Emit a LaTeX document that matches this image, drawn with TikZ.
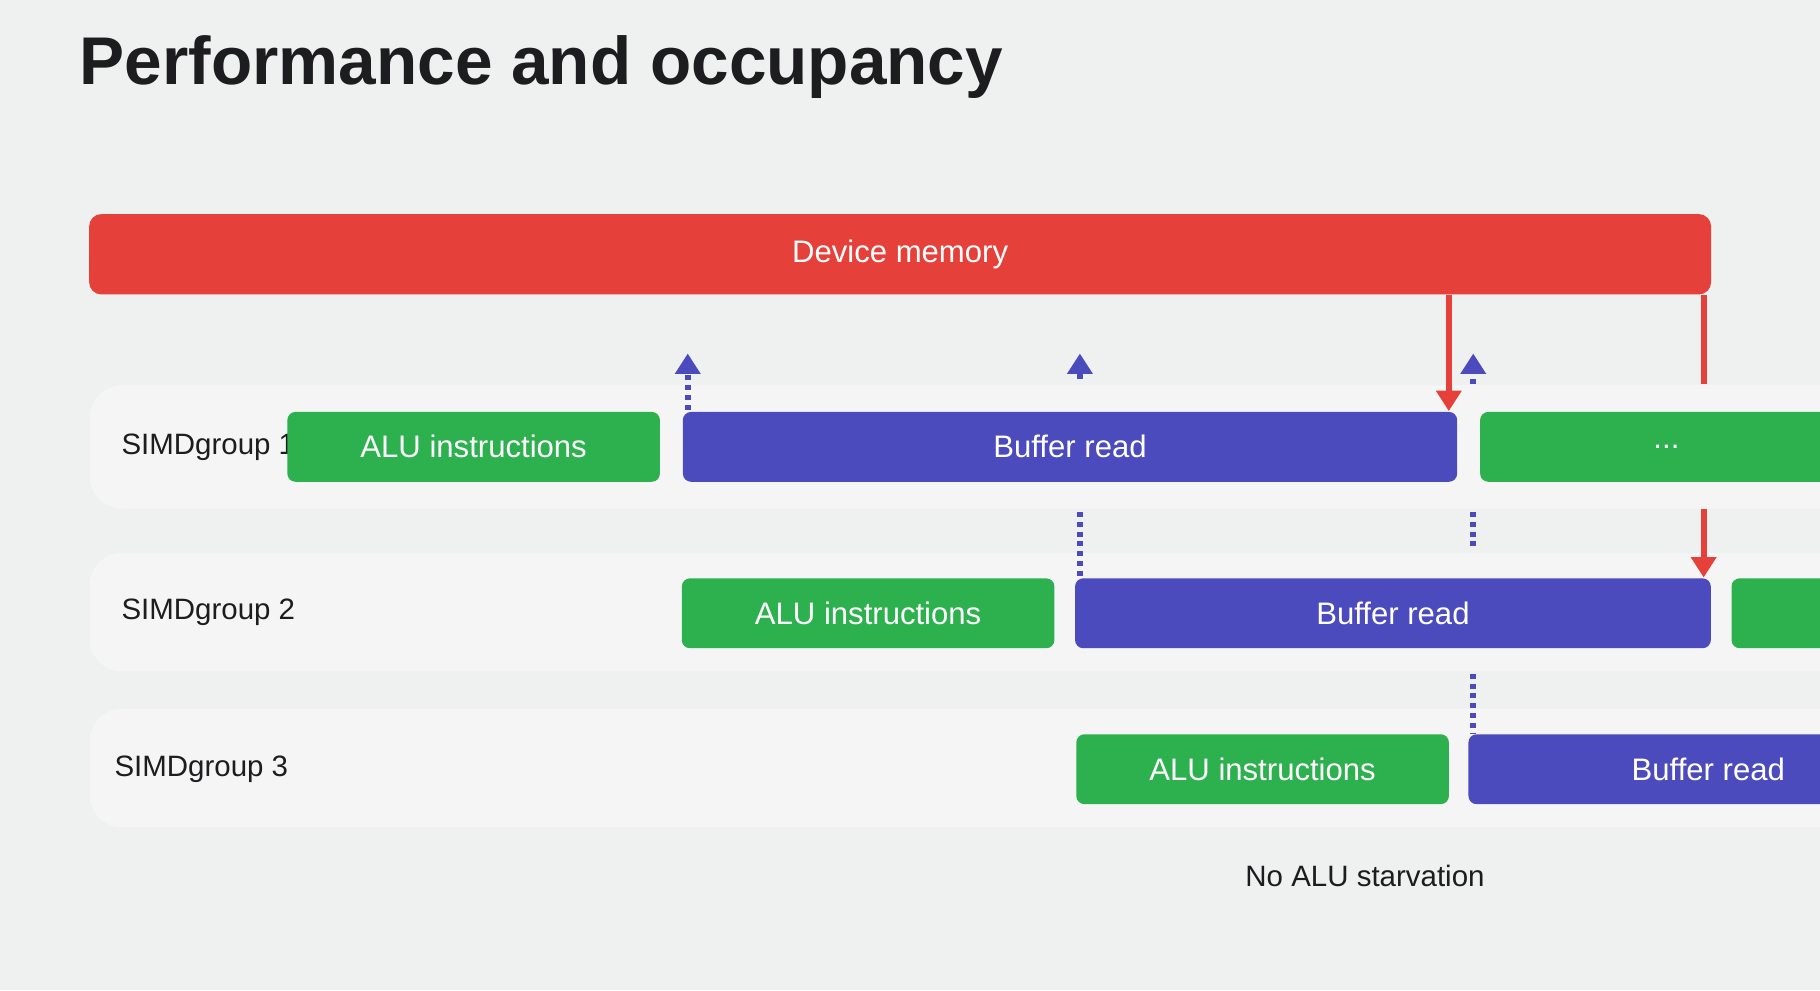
\documentclass[tikz,border=0pt]{standalone}
\usepackage{fontspec}
\setmainfont{Liberation Sans}
\usetikzlibrary{arrows.meta}
\definecolor{bgc}{HTML}{EFF0F0}
\definecolor{lanec}{HTML}{F5F5F6}
\definecolor{memred}{HTML}{E6403A}
\definecolor{alugreen}{HTML}{2DB04E}
\definecolor{bufblue}{HTML}{4B4BBD}
\definecolor{txtc}{HTML}{1D1D1F}
\tikzset{
  lane/.style={fill=lanec,rounded corners=8pt},
  blk/.style={rounded corners=2pt,text=white,font=\fontsize{7.6}{9}\selectfont,inner sep=0,minimum height=0.6cm},
  alu/.style={blk,fill=alugreen},
  buf/.style={blk,fill=bufblue},
  lbl/.style={text=txtc,font=\fontsize{7.2}{9}\selectfont,anchor=west},
  rd/.style={dashed,dash pattern=on 1.2pt off 1.2pt,bufblue,line width=1.4pt,-{Triangle[length=5pt,width=6pt]}},
  rdn/.style={dashed,dash pattern=on 1.2pt off 1.2pt,bufblue,line width=1.4pt},
  wr/.style={memred,line width=1.4pt,-{Triangle[length=5pt,width=6pt]}},
  wrn/.style={memred,line width=1.4pt}
}
\begin{document}
\begin{tikzpicture}[x=0.01cm,y=-0.01cm]
    \fill[bgc] (0,0) rectangle (1564,851);
    \useasboundingbox (0,0) rectangle (1564,851);
    \clip (0,0) rectangle (1564,851);
    \node[anchor=base west,text=txtc,font=\bfseries\fontsize{16.5}{20}\selectfont,inner sep=0] (title) at (68,73) {Performance and occupancy};
    % memory
    \node[fill=memred,rounded corners=3pt,minimum width=13.93cm,minimum height=0.69cm,text=white,font=\fontsize{7.6}{9}\selectfont,inner sep=0] (mem) at (773.5,218.5) {Device memory};
    % lanes
    \fill[lane] (77,331) rectangle (1600,437);
    \fill[lane] (77,475) rectangle (1600,577);
    \fill[lane] (77,609) rectangle (1600,711);
    \node[lbl] (g1) at (92,384) {SIMDgroup 1};
    \node[lbl] (g2) at (92,526) {SIMDgroup 2};
    \node[lbl] (g3) at (86,661) {SIMDgroup 3};
    % lane 1
    \node[alu,minimum width=3.2cm] (a1) at (407,384) {ALU instructions};
    \node[buf,minimum width=6.65cm] (b1) at (919.5,384) {Buffer read};
    \node[alu,minimum width=3.2cm] (c1) at (1432,384) {...};
    % lane 2
    \node[alu,minimum width=3.2cm] (a2) at (746,527) {ALU instructions};
    \node[buf,minimum width=5.46cm] (b2) at (1197,527) {Buffer read};
    \node[alu,minimum width=2cm] (c2) at (1588,527) {};
    % lane 3
    \node[alu,minimum width=3.2cm] (a3) at (1085,661) {ALU instructions};
    \node[buf,minimum width=4.12cm] (b3) at (1468,661) {Buffer read};
    % reads
    \coordinate (r1) at (591,352);
    \coordinate (r2) at (928,326);
    \coordinate (r3) at (1266,330);
    \draw[rd] (r1) -- ([yshift=-0.5cm]mem.south -| r1);
    \draw[rd] (r2) -- ([yshift=-0.5cm]mem.south -| r2);
    \draw[rd] (r3) -- ([yshift=-0.5cm]mem.south -| r3);
    \coordinate (s2) at (928,440);
    \coordinate (s3) at (1266,440);
    \coordinate (t3) at (1266,579);
    \draw[rdn] (s2) -- (b2.north -| s2);
    \draw[rdn] (s3) -- (1266,473);
    \draw[rdn] (t3) -- (b3.north -| t3);
    % writes
    \coordinate (w1) at (1245,0);
    \coordinate (w2) at (1464,0);
    \coordinate (w3) at (1464,437);
    \draw[wr] (mem.south -| w1) -- (b1.north -| w1);
    \draw[wrn] (mem.south -| w2) -- (1464,330);
    \draw[wr] (w3) -- (b2.north -| w3);
    \node[text=txtc,font=\fontsize{7.2}{9}\selectfont] (note) at (1173,753) {No ALU starvation};
\end{tikzpicture}
\end{document}
